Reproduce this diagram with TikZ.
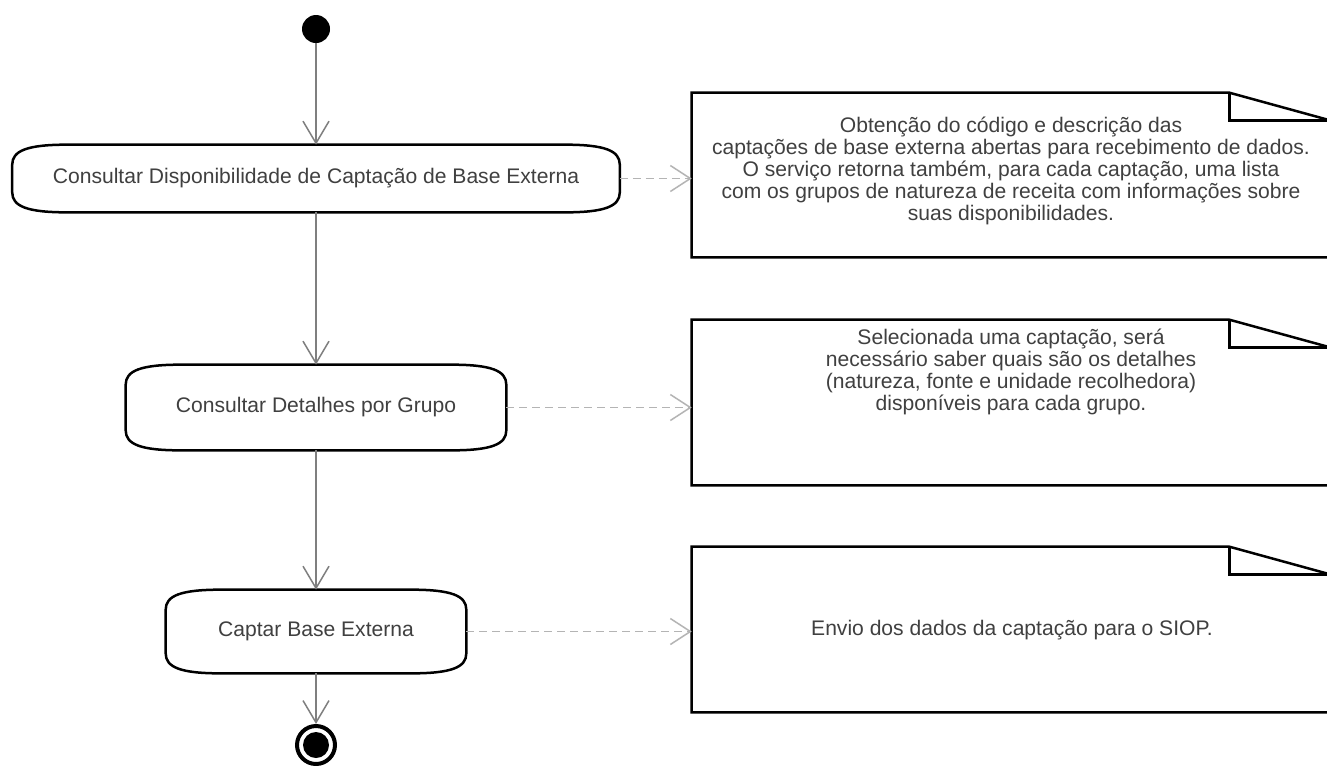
\documentclass[tikz,border=0pt]{standalone}
\usepackage{fontspec}
\setmainfont{Liberation Sans}
\usetikzlibrary{arrows.meta,calc}

\definecolor{txtgray}{HTML}{404040}
\definecolor{flowgray}{HTML}{7F7F7F}
\definecolor{depgray}{HTML}{B4B4B4}

\tikzset{
  act/.style={inner sep=0pt, text=txtgray, font=\fontsize{12}{12.5}\selectfont},
  actborder/.style={draw=black, line width=0.05cm},
  notebox/.style={inner sep=0pt},
  noteborder/.style={draw=black, line width=0.05cm, line join=miter},
  notetext/.style={align=center, inner sep=0pt, text=txtgray, font=\fontsize{12}{12.5}\selectfont},
  flow/.style={draw=flowgray, line width=0.03cm, -{Straight Barb[length=0.44cm, width=0.52cm]}},
  dep/.style={draw=depgray, line width=0.03cm, dash pattern=on 0.16cm off 0.1cm,
    -{Straight Barb[length=0.4cm, width=0.52cm]}}
}

\begin{document}
\begin{tikzpicture}[x=0.02cm, y=-0.02cm]
\useasboundingbox[fill=white] (0,0) rectangle (1327,765);

\node[circle, fill=black, minimum size=0.56cm, inner sep=0pt] (inicio) at (316,29) {};
\node[circle, draw=black, line width=0.08cm, minimum size=0.76cm, inner sep=0pt] (fim) at (316,745) {};
\fill[black] (fim.center) circle (0.26cm);

\node[act, minimum width=12.14cm, minimum height=1.34cm] (consdisp) at (316,178.5) {Consultar Disponibilidade de Captação de Base Externa};
\node[act, minimum width=7.6cm, minimum height=1.7cm] (consdet) at (316,407.5) {Consultar Detalhes por Grupo};
\node[act, minimum width=6cm, minimum height=1.66cm] (captar) at (316,631.5) {Captar Base Externa};

\foreach \n in {consdisp,consdet,captar}
  \draw[actborder] ($(\n.north west)+(55,0)$) -- ($(\n.north east)+(-55,0)$)
    .. controls ($(\n.north east)+(-15,0)$) and ($(\n.north east)+(0,6)$) .. ($(\n.north east)+(0,20)$)
    -- ($(\n.south east)+(0,-20)$)
    .. controls ($(\n.south east)+(0,-6)$) and ($(\n.south east)+(-15,0)$) .. ($(\n.south east)+(-55,0)$)
    -- ($(\n.south west)+(55,0)$)
    .. controls ($(\n.south west)+(15,0)$) and ($(\n.south west)+(0,-6)$) .. ($(\n.south west)+(0,-20)$)
    -- ($(\n.north west)+(0,20)$)
    .. controls ($(\n.north west)+(0,6)$) and ($(\n.north west)+(15,0)$) .. cycle;

\node[notebox, minimum width=12.78cm, minimum height=3.28cm] (notadisp) at (1011.5,175) {};
\node[notebox, minimum width=12.78cm, minimum height=3.3cm] (notadet) at (1011.5,402.5) {};
\node[notebox, minimum width=12.78cm, minimum height=3.3cm] (notacapt) at (1011.5,629.5) {};

\foreach \n in {notadisp,notadet,notacapt} {
  \draw[noteborder] (\n.north west) -- ($(\n.north east)+(-102,0)$) -- ($(\n.north east)+(0,28)$)
    -- (\n.south east) -- (\n.south west) -- cycle;
  \draw[noteborder] ($(\n.north east)+(-102,0)$) |- ($(\n.north east)+(0,28)$);
}

\node[notetext] (txtdisp) at (1011,171) {Obtenção do código e descrição das\\captações de base externa abertas para recebimento de dados.\\O serviço retorna também, para cada captação, uma lista\\com os grupos de natureza de receita com informações sobre\\suas disponibilidades.};
\node[notetext] (txtdet) at (1011,372) {Selecionada uma captação, será\\necessário saber quais são os detalhes\\(natureza, fonte e unidade recolhedora)\\disponíveis para cada grupo.};
\node[notetext] (txtcapt) at (1012,630) {Envio dos dados da captação para o SIOP.};

\draw[flow] (inicio) -- (consdisp);
\draw[flow] (consdisp) -- (consdet);
\draw[flow] (consdet) -- (captar);
\draw[flow] (captar) -- (fim);

\draw[dep] (consdisp.east) -- (consdisp.east -| notadisp.west);
\draw[dep] (consdet.east) -- (consdet.east -| notadet.west);
\draw[dep] (captar.east) -- (captar.east -| notacapt.west);
\end{tikzpicture}
\end{document}
